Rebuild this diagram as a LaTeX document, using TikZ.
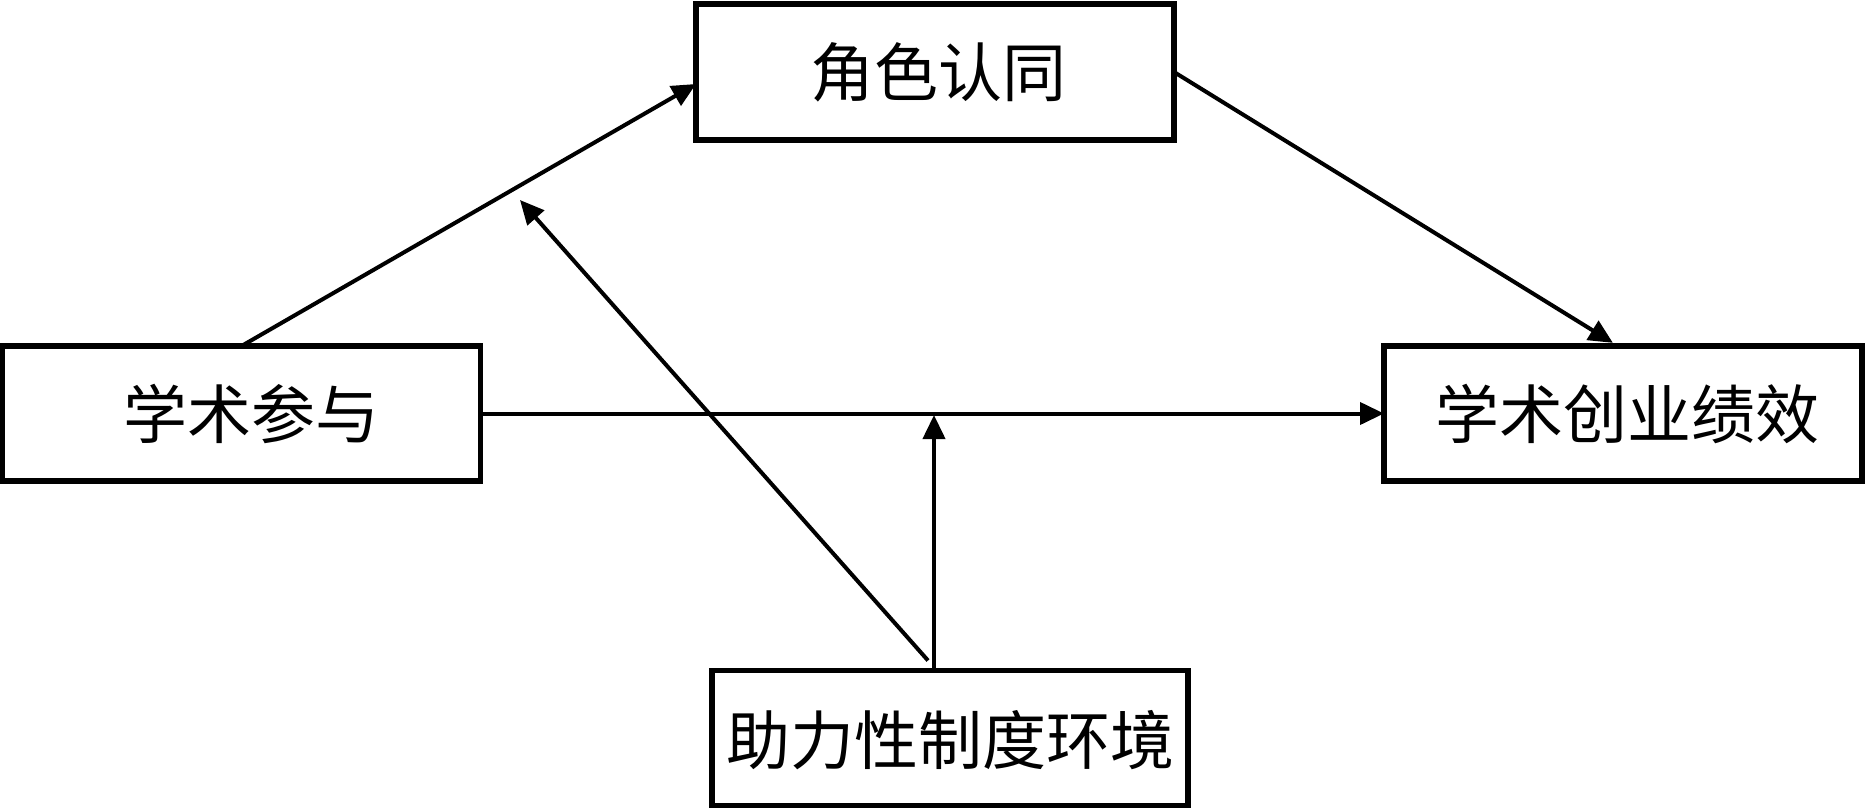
\documentclass[tikz,border=0pt]{standalone}
\usepackage{fontspec}
\newfontfamily\cjk{Noto Sans CJK SC}
\usetikzlibrary{arrows.meta}
\tikzset{
  box/.style={draw=black, line width=5.5pt, rectangle, inner sep=0pt, outer sep=0pt,
    font=\cjk\fontsize{64}{72}\selectfont, align=center},
  lbl/.style={font=\cjk\fontsize{64}{72}\selectfont, inner sep=0pt},
  conn/.style={draw=black, line width=4pt, -{Triangle[length=24pt,width=22pt]}},
}
\begin{document}
\begin{tikzpicture}[x=1pt,y=-1pt]
\useasboundingbox[fill=white] (0,0) rectangle (1866,809);
\node[box, minimum width=478pt, minimum height=136pt] (role) at (935,72) {};
\node[lbl] (rolet) at (938,72) {角色认同};
\node[box, minimum width=478pt, minimum height=135pt] (part) at (241.5,413.5) {};
\node[lbl] (partt) at (251,413.5) {学术参与};
\node[box, minimum width=478pt, minimum height=135pt] (perf) at (1623,413.5) {};
\node[lbl] (perft) at (1627,413.5) {学术创业绩效};
\node[box, minimum width=476pt, minimum height=135pt] (env) at (950,738) {};
\node[lbl] (envt) at (950,740) {助力性制度环境};
\coordinate (m) at (934,415);
\coordinate (e) at (520,200);
\draw[conn] (part.north) -- ([yshift=-12pt]role.west);
\draw[conn, shorten >=6pt] (role.east) -- ([xshift=-5pt]perf.north);
\draw[conn] (part.east) -- (perf.west);
\draw[conn] ([xshift=-16pt]env.north) -- (m);
\draw[conn] ([xshift=-22pt,yshift=10pt]env.north) -- (e);
\end{tikzpicture}
\end{document}
